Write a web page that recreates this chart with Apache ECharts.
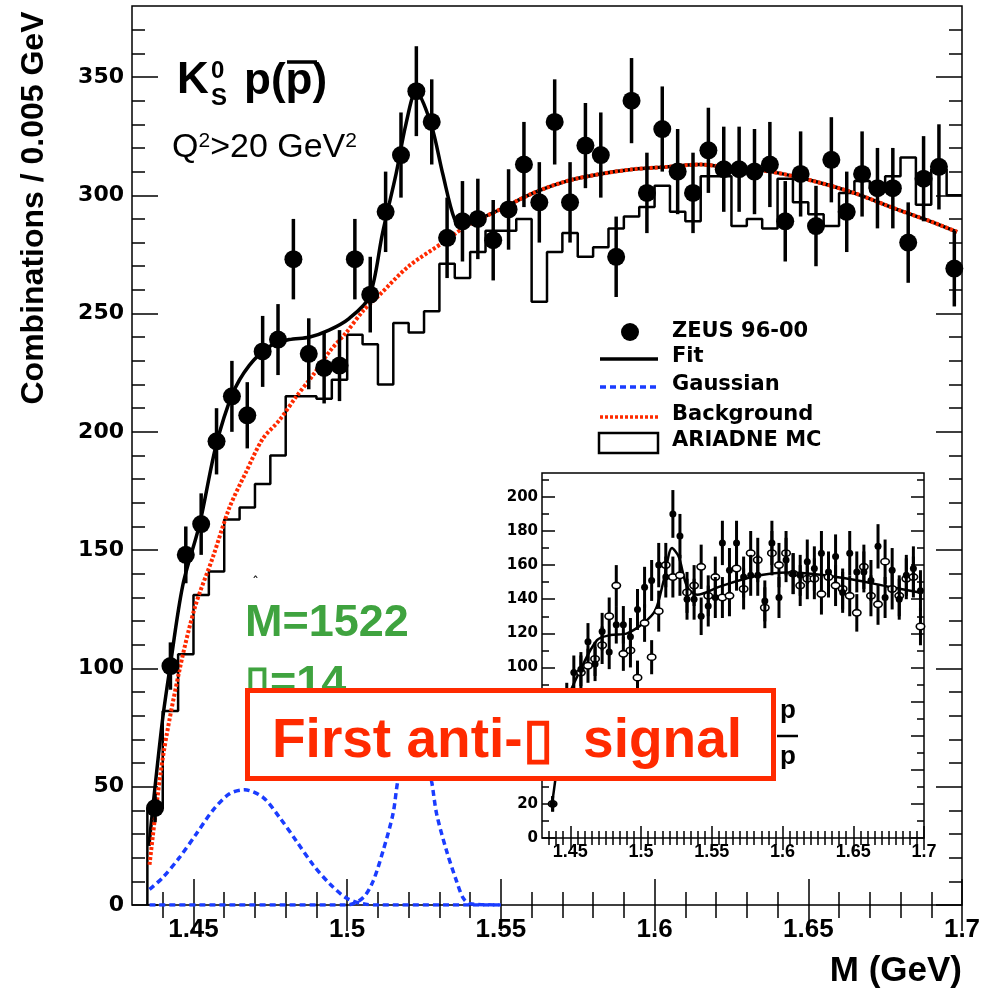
<!DOCTYPE html>
<html><head><meta charset="utf-8">
<script src="https://cdn.jsdelivr.net/npm/echarts@6/dist/echarts.min.js"></script>
<style>html,body{margin:0;padding:0;background:#fff}#c{width:999px;height:992px}</style>
</head><body><div id="c"></div>
<script>
// ---------- data ----------
const massBins = [1.4375,1.4425,1.4475,1.4525,1.4575,1.4625,1.4675,1.4725,1.4775,1.4825,1.4875,1.4925,1.4975,1.5025,1.5075,1.5125,1.5175,1.5225,1.5275,1.5325,1.5375,1.5425,1.5475,1.5525,1.5575,1.5625,1.5675,1.5725,1.5775,1.5825,1.5875,1.5925,1.5975,1.6025,1.6075,1.6125,1.6175,1.6225,1.6275,1.6325,1.6375,1.6425,1.6475,1.6525,1.6575,1.6625,1.6675,1.6725,1.6775,1.6825,1.6875,1.6925,1.6975];
const zeusCounts = [41,101,148,161,196,215,207,234,239,273,233,227,228,273,258,293,317,344,331,282,289,290,281,294,313,297,331,297,321,317,274,340,301,328,310,301,319,311,311,310,313,289,309,287,315,293,309,303,303,280,307,312,269];
const zeusErrors = [6,10,12,13,14,15,14,15,15,17,15,15,15,17,16,17,18,19,18,17,17,17,17,17,18,17,18,17,18,18,17,18,17,18,18,17,18,18,18,18,18,17,18,17,18,17,18,17,17,17,18,18,16];
const ariadneCounts = [41,82,106,131,141,163,168,178,190,215,215,214,222,241,237,220,246,242,251,271,265,276,285,285,290,255,276,284,274,278,286,291,295,304,293,289,308,308,287,290,286,307,297,292,287,301,306,303,308,316,296,311,300];
const fitCurve = [[1.4355,25],[1.4375,50],[1.44,79],[1.4422,99],[1.4465,135],[1.452,161],[1.4573,194],[1.4627,216],[1.4681,228],[1.4746,236],[1.4811,239],[1.4876,240],[1.4941,243],[1.5007,248],[1.5072,257],[1.5115,284],[1.5159,309],[1.5191,330],[1.5224,344],[1.5273,330],[1.5311,309],[1.5349,290],[1.5376,287],[1.543,290],[1.5497,294],[1.5606,301],[1.5714,306],[1.5823,309],[1.5931,311],[1.604,312],[1.6149,313],[1.6224,312],[1.6376,310],[1.6517,306],[1.6648,301],[1.6789,294],[1.6897,289],[1.6984,284.5]];
const backgroundCurve = [[1.4357,17],[1.44,62],[1.4454,99],[1.4505,126],[1.4563,147],[1.4617,168],[1.4671,183],[1.4725,197],[1.478,205],[1.4835,215],[1.4889,224],[1.4943,234],[1.4997,242],[1.5051,251],[1.5106,258],[1.52,270],[1.5323,281],[1.5388,287],[1.5497,294],[1.5606,301],[1.5714,306],[1.5823,309],[1.5931,311],[1.604,312],[1.6149,313],[1.6224,312],[1.6376,310],[1.6517,306],[1.6648,301],[1.6789,294],[1.6897,289],[1.6984,284.5]];
const gaussWide = [[1.4357,6.6],[1.44,11.6],[1.4454,20],[1.4509,30],[1.4563,40],[1.4617,47],[1.4666,48.7],[1.4726,45.5],[1.478,37],[1.4835,27],[1.4889,17],[1.4943,9],[1.4997,3],[1.5051,0.5],[1.5106,0],[1.55,0]];
const gaussNarrow = [[1.4357,0],[1.5,0],[1.5051,3],[1.5084,10],[1.5117,23],[1.5149,38.5],[1.5164,52],[1.519,68],[1.522,72],[1.525,68],[1.5275,52],[1.5291,38.5],[1.5323,23],[1.5356,10],[1.5377,3],[1.54,0.5],[1.55,0]];
const insetP = [20,52,82,97,99,115,102,121,109,125,125,118,134,147,151,160,153,190,177,140,140,130,136,141,173,157,173,153,154,154,139,173,141,163,155,154,162,158,167,156,165,144,167,156,156,151,171,141,157,140,154,158,145];
const insetPErr = [4.5,7,9,10,10,11,10,11,10,11,11,11,12,12,12,13,12,14,13,12,12,11,12,12,13,13,13,12,12,12,12,13,12,13,12,12,13,13,13,12,13,12,13,12,12,12,13,12,13,12,12,13,12];
const insetPbar = [20,49,66,64,97,101,105,113,130,148,108,110,94,126,106,133,160,153,154,144,148,159,142,153,141,142,158,146,167,163,135,167,160,167,155,148,152,152,143,153,148,146,142,132,159,142,137,162,146,142,152,153,124];
const insetPbarErr = [4.5,7,8,8,10,10,10,11,11,12,10,10,10,11,10,12,13,12,12,12,12,13,12,12,12,12,13,12,13,13,12,13,13,13,12,12,12,12,12,12,12,12,12,11,13,12,12,13,12,12,12,12,11];
const insetFit = [[1.4371,20],[1.4394,34],[1.4425,55],[1.4475,80],[1.4571,98.5],[1.4689,116],[1.4783,119],[1.4901,120],[1.5018,126],[1.5101,133.5],[1.516,151],[1.5219,170],[1.5266,165],[1.5325,147.5],[1.5396,142.6],[1.5561,147.5],[1.5796,153.3],[1.6033,155.7],[1.6268,154.4],[1.6504,151.4],[1.674,147.5],[1.6987,143.6]];
const mainXTicks = [1.45,1.5,1.55,1.6,1.65,1.7];
const mainXLabels = ['1.45','1.5','1.55','1.6','1.65','1.7'];
const mainXMinor = [1.44,1.46,1.47,1.48,1.49,1.51,1.52,1.53,1.54,1.56,1.57,1.58,1.59,1.61,1.62,1.63,1.64,1.66,1.67,1.68,1.69];
const mainYTicks = [0,50,100,150,200,250,300,350];
const mainYLabels = ['0','50','100','150','200','250','300','350'];
const mainYMinor = [10,20,30,40,60,70,80,90,110,120,130,140,160,170,180,190,210,220,230,240,260,270,280,290,310,320,330,340,360,370];
const insetXTicks = [1.45,1.5,1.55,1.6,1.65,1.7];
const insetXLabels = ['1.45','1.5','1.55','1.6','1.65','1.7'];
const insetXMinor = [1.435,1.44,1.445,1.455,1.46,1.465,1.47,1.475,1.48,1.485,1.49,1.495,1.505,1.51,1.515,1.52,1.525,1.53,1.535,1.54,1.545,1.555,1.56,1.565,1.57,1.575,1.58,1.585,1.59,1.595,1.605,1.61,1.615,1.62,1.625,1.63,1.635,1.64,1.645,1.655,1.66,1.665,1.67,1.675,1.68,1.685,1.69,1.695];
const insetYTicks = [0,20,40,60,80,100,120,140,160,180,200];
const insetYLabels = ['0','20','40','60','80','100','120','140','160','180','200'];
const insetYMinor = [10,30,50,70,90,110,130,150,170,190,210];

// ---------- helpers ----------
const labelOf = (ticks, labels) => v => { const i = ticks.findIndex(t => Math.abs(t - v) < 1e-9); return i >= 0 ? labels[i] : ''; };
const binHalf = 0.0025;
const histData = [[massBins[0] - binHalf, 0]].concat(massBins.map((m, i) => [m - binHalf, ariadneCounts[i]])).concat([[massBins[massBins.length - 1] + binHalf, ariadneCounts[ariadneCounts.length - 1]]]);

function xAx(grid, pos, ticks, len, labels, fontCfg) {
  return { gridIndex: grid, type: 'value', position: pos, min: 1.43, max: 1.70,
    axisLine: { show: false }, splitLine: { show: false },
    axisTick: { show: true, inside: true, length: len, customValues: ticks, lineStyle: { color: '#000', width: 1.5 } },
    axisLabel: labels ? Object.assign({ show: true, customValues: ticks, formatter: labelOf(ticks, labels), color: '#000' }, fontCfg) : { show: false } };
}
function yAx(grid, pos, max, ticks, len, labels, fontCfg) {
  return { gridIndex: grid, type: 'value', position: pos, min: 0, max: max,
    axisLine: { show: false }, splitLine: { show: false },
    axisTick: { show: true, inside: true, length: len, customValues: ticks, lineStyle: { color: '#000', width: 1.5 } },
    axisLabel: labels ? Object.assign({ show: true, customValues: ticks, formatter: labelOf(ticks, labels), color: '#000' }, fontCfg) : { show: false } };
}

const mainXFont = { fontFamily: 'Liberation Sans', fontWeight: 'bold', fontSize: 26, margin: 12 };
const mainYFont = { fontFamily: 'DejaVu Sans', fontWeight: 'bold', fontSize: 22, margin: 8 };
const insetXFont = { fontFamily: 'Liberation Sans', fontWeight: 'bold', fontSize: 18, margin: 5 };
const insetYFont = { fontFamily: 'DejaVu Sans', fontWeight: 'bold', fontSize: 15, margin: 4 };

function errRender(radius, barW, open) {
  return function (params, api) {
    const x = api.value(0), v = api.value(1), e = api.value(2);
    const c = api.coord([x, v]);
    const lo = api.coord([x, v - e]);
    const hi = api.coord([x, v + e]);
    const ch = [{ type: 'line', shape: { x1: c[0], y1: lo[1], x2: c[0], y2: hi[1] }, style: { stroke: '#000', lineWidth: barW } }];
    if (open) ch.push({ type: 'ellipse', shape: { cx: c[0], cy: c[1], rx: radius + 1, ry: radius }, style: { fill: '#fff', stroke: '#000', lineWidth: 1.6 } });
    else ch.push({ type: 'circle', shape: { cx: c[0], cy: c[1], r: radius }, style: { fill: '#000' } });
    return { type: 'group', children: ch };
  };
}

const chart = echarts.init(document.getElementById('c'), null, { renderer: 'canvas' });
const RED = '#ff2a00', BLUE = '#1a3cff', GREEN = '#3fa33f';
const T = (x, y, text, font, fill, align, extra) => Object.assign({ type: 'text', x: x, y: y, z: 50, silent: true,
  style: { text: text, font: font, fill: fill || '#000', align: align || 'left', verticalAlign: 'middle', textAlign: align || 'left', textVerticalAlign: 'middle' } }, extra || {});

const option = {
  animation: false,
  backgroundColor: '#fff',
  grid: [
    { left: 132, top: 6, width: 830, height: 899, show: true, borderColor: '#000', borderWidth: 1.5, backgroundColor: 'transparent' },
    { left: 542, top: 473, width: 382, height: 365, show: true, borderColor: '#000', borderWidth: 1.5, backgroundColor: '#fff' }
  ],
  xAxis: [
    xAx(0, 'bottom', mainXTicks, 26, mainXLabels, mainXFont),
    xAx(0, 'bottom', mainXMinor, 13),
    xAx(0, 'top', mainXTicks, 26),
    xAx(0, 'top', mainXMinor, 13),
    xAx(1, 'bottom', insetXTicks, 12, insetXLabels, insetXFont),
    xAx(1, 'bottom', insetXMinor, 7),
    xAx(1, 'top', insetXTicks, 12),
    xAx(1, 'top', insetXMinor, 7)
  ],
  yAxis: [
    yAx(0, 'left', 380, mainYTicks, 26, mainYLabels, mainYFont),
    yAx(0, 'left', 380, mainYMinor, 13),
    yAx(0, 'right', 380, mainYTicks, 26),
    yAx(0, 'right', 380, mainYMinor, 13),
    yAx(1, 'left', 214, insetYTicks, 13, insetYLabels, insetYFont),
    yAx(1, 'left', 214, insetYMinor, 7),
    yAx(1, 'right', 214, insetYTicks, 13),
    yAx(1, 'right', 214, insetYMinor, 7)
  ],
  series: [
    { name: 'ARIADNE MC', type: 'line', xAxisIndex: 0, yAxisIndex: 0, step: 'end', data: histData, symbol: 'none', lineStyle: { color: '#000', width: 2.5 }, z: 3 },
    { name: 'Fit', type: 'line', xAxisIndex: 0, yAxisIndex: 0, data: fitCurve, smooth: 0.3, symbol: 'none', lineStyle: { color: '#000', width: 3.5 }, z: 4 },
    { name: 'Background', type: 'line', xAxisIndex: 0, yAxisIndex: 0, data: backgroundCurve, smooth: 0.3, symbol: 'none', lineStyle: { color: RED, width: 4, type: [3, 2] }, z: 5 },
    { name: 'GaussianWide', type: 'line', xAxisIndex: 0, yAxisIndex: 0, data: gaussWide, smooth: 0.3, symbol: 'none', lineStyle: { color: BLUE, width: 3.5, type: [6, 4] }, z: 5 },
    { name: 'GaussianNarrow', type: 'line', xAxisIndex: 0, yAxisIndex: 0, data: gaussNarrow, smooth: 0.3, symbol: 'none', lineStyle: { color: BLUE, width: 3.5, type: [6, 4] }, z: 5 },
    { name: 'ZEUS 96-00', type: 'custom', xAxisIndex: 0, yAxisIndex: 0, renderItem: errRender(9, 3.5, false), encode: { x: 0, y: 1 },
      data: massBins.map((m, i) => [m, zeusCounts[i], zeusErrors[i]]), z: 6 },
    { name: 'inset fit', type: 'line', xAxisIndex: 4, yAxisIndex: 4, data: insetFit, smooth: 0.3, symbol: 'none', lineStyle: { color: '#000', width: 2.5 }, z: 6 },
    { name: 'inset pbar', type: 'custom', xAxisIndex: 4, yAxisIndex: 4, renderItem: errRender(3.2, 3, true), encode: { x: 0, y: 1 },
      data: massBins.map((m, i) => [m, insetPbar[i], insetPbarErr[i]]), z: 7 },
    { name: 'inset p', type: 'custom', xAxisIndex: 4, yAxisIndex: 4, renderItem: errRender(3.5, 3, false), encode: { x: 0, y: 1 },
      data: massBins.map((m, i) => [m, insetP[i], insetPErr[i]]), z: 8 }
  ],
  graphic: [
    // title
    T(177, 81, 'K', 'bold 44px "Liberation Sans"'),
    T(211, 71, '0', 'bold 24px "Liberation Sans"'),
    T(211, 98, 'S', 'bold 24px "Liberation Sans"'),
    T(244, 82, 'p(p)', 'bold 44px "Liberation Sans"'),
    { type: 'line', z: 50, silent: true, shape: { x1: 287, y1: 62, x2: 317, y2: 62 }, style: { stroke: '#000', lineWidth: 3.5 } },
    { type: 'text', x: 172, y: 148, z: 50, silent: true, style: { text: '{a|Q}{s|2}{a|>20 GeV}{s|2}', align: 'left', verticalAlign: 'middle', textAlign: 'left', textVerticalAlign: 'middle',
      rich: { a: { font: '34px "Liberation Sans"', fill: '#000', color: '#000', verticalAlign: 'bottom' }, s: { font: '21px "Liberation Sans"', fill: '#000', color: '#000', verticalAlign: 'top' } } } },
    // axis titles
    T(34, 208, 'Combinations / 0.005 GeV', 'bold 32px "Liberation Sans"', '#000', 'center', { rotation: Math.PI / 2 }),
    T(962, 971, 'M (GeV)', 'bold 35px "Liberation Sans"', '#000', 'right'),
    // legend
    { type: 'circle', z: 50, silent: true, shape: { cx: 630, cy: 332, r: 9 }, style: { fill: '#000' } },
    T(672, 332, 'ZEUS 96-00', 'bold 21px "DejaVu Sans"'),
    { type: 'line', z: 50, silent: true, shape: { x1: 600, y1: 359, x2: 658, y2: 359 }, style: { stroke: '#000', lineWidth: 3.5 } },
    T(672, 357, 'Fit', 'bold 21px "DejaVu Sans"'),
    { type: 'line', z: 50, silent: true, shape: { x1: 600, y1: 387, x2: 658, y2: 387 }, style: { stroke: BLUE, lineWidth: 3.5, lineDash: [6, 4] } },
    T(672, 385, 'Gaussian', 'bold 21px "DejaVu Sans"'),
    { type: 'line', z: 50, silent: true, shape: { x1: 600, y1: 417, x2: 658, y2: 417 }, style: { stroke: RED, lineWidth: 3.5, lineDash: [3, 2] } },
    T(672, 415, 'Background', 'bold 21px "DejaVu Sans"'),
    { type: 'rect', z: 50, silent: true, shape: { x: 599, y: 433, width: 59, height: 20 }, style: { fill: 'none', stroke: '#000', lineWidth: 2.5 } },
    T(672, 441, 'ARIADNE MC', 'bold 21px "DejaVu Sans"'),
    // green annotations
    T(252, 583, 'ˆ', '14px "DejaVu Sans"'),
    T(245, 624, 'M=1522', 'bold 45px "Liberation Sans"', GREEN),
    T(245, 685, '\u25AF=14', 'bold 45px "Liberation Sans"', GREEN),
    // inset p / pbar
    T(780, 711, 'p', 'bold 26px "Liberation Sans"'),
    { type: 'line', z: 50, silent: true, shape: { x1: 777, y1: 736, x2: 798, y2: 736 }, style: { stroke: '#000', lineWidth: 2.5 } },
    T(780, 757, 'p', 'bold 26px "Liberation Sans"'),
    // red box
    { type: 'rect', z: 90, silent: true, shape: { x: 247.5, y: 690.5, width: 526, height: 88 }, style: { fill: '#fff', stroke: RED, lineWidth: 5 } },
    T(272, 742, 'First anti-\u25AF  signal', 'bold 55px "Liberation Sans"', RED, 'left', { z: 91 })
  ]
};
chart.setOption(option);
</script>
</body></html>
